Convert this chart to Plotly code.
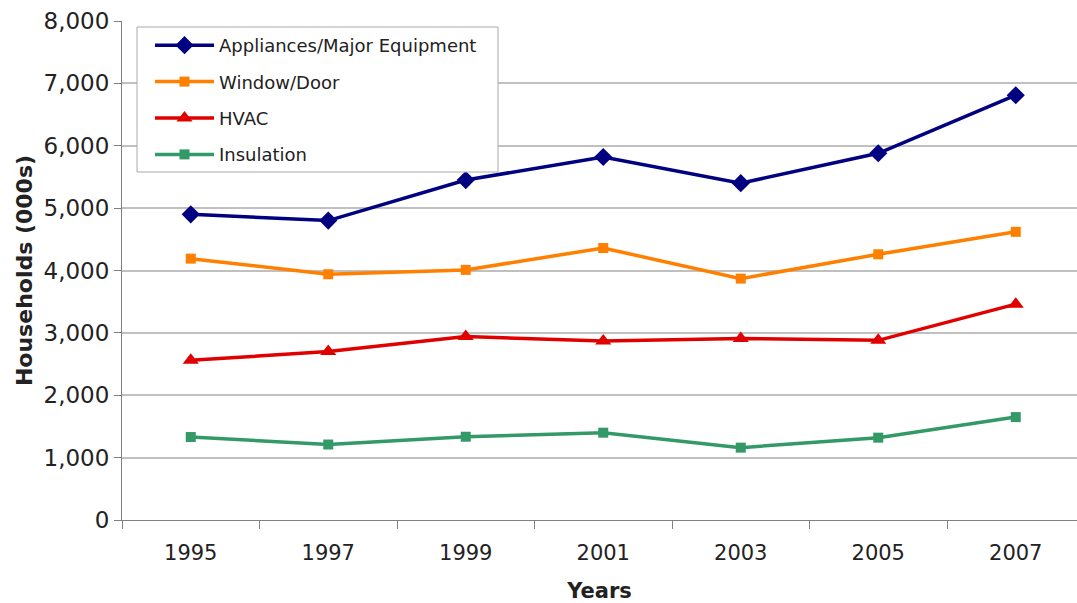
import plotly.graph_objects as go

years = ["1995", "1997", "1999", "2001", "2003", "2005", "2007"]
appliances = [4900, 4800, 5450, 5820, 5400, 5880, 6810]
window_door = [4190, 3940, 4010, 4360, 3870, 4260, 4620]
hvac = [2560, 2700, 2940, 2870, 2910, 2880, 3460]
insulation = [1330, 1210, 1335, 1400, 1160, 1320, 1650]

series = [
    ("Appliances/Major Equipment", appliances, "#000080", "diamond", 14),
    ("Window/Door", window_door, "#FF7F00", "square", 10),
    ("HVAC", hvac, "#E00000", "triangle-up", 14),
    ("Insulation", insulation, "#339966", "square", 10),
]

W, H = 1077, 603
ML, MT, MB = 122, 21, 83
PW, PH = W - ML, H - MT - MB


def px_x(p):
    return (p - ML) / PW


def px_y(p):
    return 1 - (p - MT) / PH


fig = go.Figure()
for i, (name, vals, color, sym, size) in enumerate(series):
    fig.add_trace(go.Scatter(
        x=years, y=vals, name=name, mode="lines+markers",
        line=dict(color=color, width=3.5),
        marker=dict(symbol=sym, size=size, color=color),
        legendgroup=f"g{i}",
    ))

# legend frame
fig.add_shape(
    type="rect", xref="paper", yref="paper",
    x0=px_x(137), x1=px_x(498), y0=px_y(172), y1=px_y(27),
    line=dict(color="#aaaaaa", width=1), fillcolor="white", layer="above",
)

fig.update_layout(
    width=W, height=H,
    margin=dict(l=ML, r=0, t=MT, b=MB),
    plot_bgcolor="white", paper_bgcolor="white",
    font=dict(family="DejaVu Sans", size=20, color="#222"),
    showlegend=True,
    legend=dict(
        x=px_x(150), xanchor="left",
        y=px_y(27), yanchor="top",
        bgcolor="rgba(0,0,0,0)", borderwidth=0,
        font=dict(size=18, family="DejaVu Sans", color="#222"),
        tracegroupgap=10,
        itemwidth=59,
    ),
    xaxis=dict(
        type="category", range=[-0.5, -0.5 + PW / 137.5], automargin=False,
        showline=True, linecolor="#808080", linewidth=1,
        ticks="outside", tickson="boundaries", ticklen=8, tickcolor="#808080",
        showgrid=False,
        tickfont=dict(size=21, family="DejaVu Sans"),
        ticklabelstandoff=14,
        title=dict(text="<b>Years</b>", font=dict(size=21, family="DejaVu Sans"), standoff=20),
    ),
    yaxis=dict(
        range=[0, 8000], tickvals=[0, 1000, 2000, 3000, 4000, 5000, 6000, 7000, 8000],
        tickformat=",d", automargin=False,
        showline=True, linecolor="#808080", linewidth=1,
        ticks="outside", ticklen=7, tickcolor="#808080",
        showgrid=True, gridcolor="#c0c0c0", gridwidth=1.5,
        zeroline=False,
        tickfont=dict(size=23),
        title=dict(text="<b>Households (000s)</b>", font=dict(size=22), standoff=4),
    ),
)

fig.write_html(
    "out.html",
    config={"displayModeBar": False},
    post_script="document.body.style.margin='0';document.body.style.overflow='hidden';",
)
